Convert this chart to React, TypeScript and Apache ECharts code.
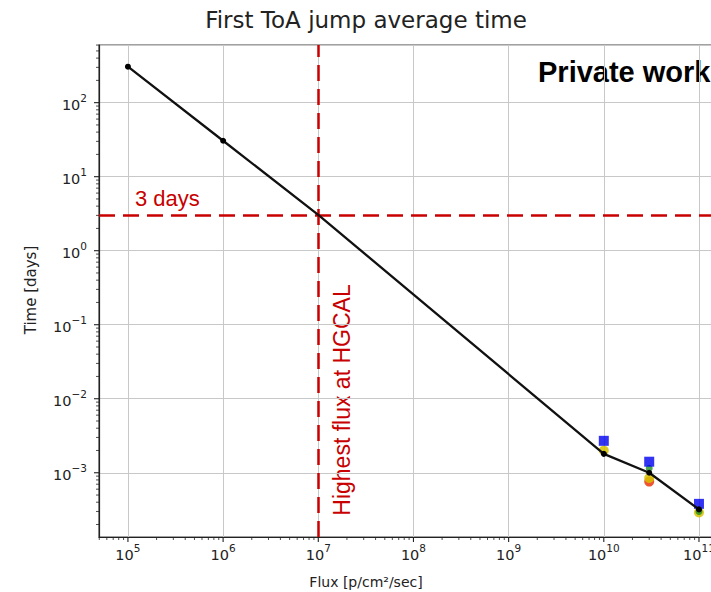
import React, { useEffect, useRef } from "react";
import * as echarts from "echarts";

// ---- data ----
const LINE_FLUX = [1e5, 1e6, 1e7, 1e10, 3e10, 1e11];
const LINE_TIME = [306, 30.6, 3.05, 1.8e-3, 1.0e-3, 3.2e-4];
const MEAS_FLUX = [1e10, 3e10, 1e11];
const BLUE_TIME: (number | null)[] = [2.7e-3, 1.41e-3, 3.8e-4];
const GREEN_TIME: (number | null)[] = [null, 1.15e-3, 3.0e-4];
const YELLOW_TIME: (number | null)[] = [2.0e-3, 8.5e-4, 2.9e-4];
const RED_TIME: (number | null)[] = [null, 7.6e-4, null];
const HGCAL_FLUX = 1e7;
const THREE_DAYS = 3;
const MINOR_STEPS = [2, 3, 4, 5, 6, 7, 8, 9];

const TITLE = "First ToA jump average time";
const X_NAME = "Flux [p/cm²/sec]";
const Y_NAME = "Time [days]";

const X_MIN = Math.pow(10, 4.696);
const X_MAX = Math.pow(10, 11.305);
const Y_MIN = Math.pow(10, -3.868);
const Y_MAX = Math.pow(10, 2.779);

const powLabel = (v: number) => {
  const e = Math.log10(v);
  const r = Math.round(e);
  if (Math.abs(e - r) > 1e-6) return "";
  return "{n|10}{s|" + String(r).replace("-", "−") + "}";
};

const LABEL_RICH = {
  n: { fontFamily: "DejaVu Sans", fontSize: 14.5, lineHeight: 20, color: "#222", verticalAlign: "bottom" },
  s: { fontFamily: "DejaVu Sans", fontSize: 10.5, lineHeight: 12, color: "#222", verticalAlign: "top" },
};

const pairs = (xs: number[], ys: (number | null)[]) =>
  xs.map((x, i) => [x, ys[i]]).filter((p) => p[1] != null);

const RED = "#c80000";
const INK = "#222";

export default function App() {
  const ref = useRef<HTMLDivElement>(null);
  useEffect(() => {
    document.body.style.margin = "0";
    const chart = echarts.init(ref.current!, undefined, { renderer: "svg" });

    const tickSeries = {
      type: "custom",
      silent: true,
      clip: false,
      z: 3,
      data: [[LINE_FLUX[0], LINE_TIME[0]]],
      renderItem: (params: any, api: any) => {
        const cs = params.coordSys;
        const bottom = cs.y + cs.height;
        const left = cs.x;
        const children: any[] = [];
        const steps = [1, ...MINOR_STEPS];
        for (let d = Math.floor(Math.log10(X_MIN)); d <= Math.ceil(Math.log10(X_MAX)); d++) {
          for (const m of steps) {
            const v = m * Math.pow(10, d);
            if (v < X_MIN || v > X_MAX) continue;
            const px = api.coord([v, 1])[0];
            const len = m === 1 ? 5 : 3;
            children.push({
              type: "line",
              shape: { x1: px, y1: bottom, x2: px, y2: bottom + len },
              style: { stroke: INK, lineWidth: m === 1 ? 1.1 : 0.8 },
            });
          }
        }
        for (let d = Math.floor(Math.log10(Y_MIN)); d <= Math.ceil(Math.log10(Y_MAX)); d++) {
          for (const m of steps) {
            const v = m * Math.pow(10, d);
            if (v < Y_MIN || v > Y_MAX) continue;
            const py = api.coord([1e6, v])[1];
            const len = m === 1 ? 5 : 3;
            children.push({
              type: "line",
              shape: { x1: left, y1: py, x2: left - len, y2: py },
              style: { stroke: INK, lineWidth: m === 1 ? 1.1 : 0.8 },
            });
          }
        }
        return { type: "group", children };
      },
    };

    const option: any = {
      animation: false,
      backgroundColor: "#ffffff",
      grid: {
        left: 99,
        top: 45,
        width: 629,
        height: 492,
        show: true,
        borderColor: "#444",
        borderWidth: 1.2,
        backgroundColor: "transparent",
        containLabel: false,
        outerBoundsMode: "none",
      },
      xAxis: {
        type: "log",
        logBase: 10,
        min: X_MIN,
        max: X_MAX,
        axisLine: { show: true, lineStyle: { color: INK, width: 1.2 } },
        axisTick: { show: false },
        splitLine: { show: true, lineStyle: { color: "#c8c8c8", width: 1 } },
        axisLabel: {
          formatter: powLabel,
          rich: LABEL_RICH,
          color: INK,
          margin: 5,
        },
      },
      yAxis: {
        type: "log",
        logBase: 10,
        min: Y_MIN,
        max: Y_MAX,
        axisLine: { show: true, lineStyle: { color: INK, width: 1.2 } },
        axisTick: { show: false },
        splitLine: { show: true, lineStyle: { color: "#c8c8c8", width: 1 } },
        axisLabel: {
          formatter: powLabel,
          rich: LABEL_RICH,
          color: INK,
          margin: 12,
        },
      },
      graphic: [
        {
          type: "text",
          x: 366,
          y: 20,
          style: {
            text: TITLE,
            fontFamily: "DejaVu Sans",
            fontSize: 23,
            fill: INK,
            align: "center",
            verticalAlign: "middle",
          },
        },
        {
          type: "text",
          x: 366,
          y: 582,
          style: {
            text: X_NAME,
            fontFamily: "DejaVu Sans",
            fontSize: 14,
            fill: INK,
            align: "center",
            verticalAlign: "middle",
          },
        },
        {
          type: "text",
          x: 31,
          y: 290,
          rotation: Math.PI / 2,
          style: {
            text: Y_NAME,
            fontFamily: "DejaVu Sans",
            fontSize: 15,
            fill: INK,
            align: "center",
            verticalAlign: "middle",
          },
        },
        {
          type: "text",
          x: 135,
          y: 198,
          style: {
            text: "3 days",
            fontFamily: "Liberation Sans",
            fontSize: 22,
            fill: RED,
            align: "left",
            verticalAlign: "middle",
          },
        },
        {
          type: "text",
          x: 342,
          y: 400,
          rotation: Math.PI / 2,
          style: {
            text: "Highest flux at HGCAL",
            fontFamily: "Liberation Sans",
            fontSize: 23,
            fill: RED,
            align: "center",
            verticalAlign: "middle",
          },
        },
        {
          type: "text",
          x: 538,
          y: 72,
          style: {
            text: "Private work",
            fontFamily: "Liberation Sans",
            fontWeight: "bold",
            fontSize: 29,
            fill: "#000",
            align: "left",
            verticalAlign: "middle",
          },
        },
      ],
      series: [
        tickSeries,
        {
          type: "scatter",
          name: "red",
          data: pairs(MEAS_FLUX, RED_TIME),
          symbol: "circle",
          symbolSize: 10,
          itemStyle: { color: "#e82a00" },
          z: 4,
        },
        {
          type: "scatter",
          name: "yellow",
          data: pairs(MEAS_FLUX, YELLOW_TIME),
          symbol: "circle",
          symbolSize: 10,
          itemStyle: { color: "#d6c200", opacity: 0.85 },
          z: 4,
        },
        {
          type: "scatter",
          name: "green",
          data: pairs(MEAS_FLUX, GREEN_TIME),
          symbol: "circle",
          symbolSize: 7,
          itemStyle: { color: "#1f8f1f" },
          z: 4,
        },
        {
          type: "scatter",
          name: "blue",
          data: pairs(MEAS_FLUX, BLUE_TIME),
          symbol: "rect",
          symbolSize: 10,
          itemStyle: { color: "#0000f0" },
          z: 4,
        },
        {
          type: "line",
          name: "average",
          data: LINE_FLUX.map((f, i) => ({
            value: [f, LINE_TIME[i]],
            symbol: f === HGCAL_FLUX ? "none" : "circle",
          })),
          symbol: "circle",
          symbolSize: 6,
          showAllSymbol: true,
          lineStyle: { color: "#111", width: 2.3 },
          itemStyle: { color: "#000" },
          z: 5,
          markLine: {
            silent: true,
            symbol: ["none", "none"],
            label: { show: false },
            lineStyle: { color: RED, width: 2.5, type: [16, 8] },
            data: [{ xAxis: HGCAL_FLUX }, { yAxis: THREE_DAYS }],
          },
        },
      ],
    };
    chart.setOption(option);
    return () => chart.dispose();
  }, []);
  return (
    <div
      ref={ref}
      style={{ position: "absolute", left: 0, top: 0, width: 711, height: 592 }}
    />
  );
}
